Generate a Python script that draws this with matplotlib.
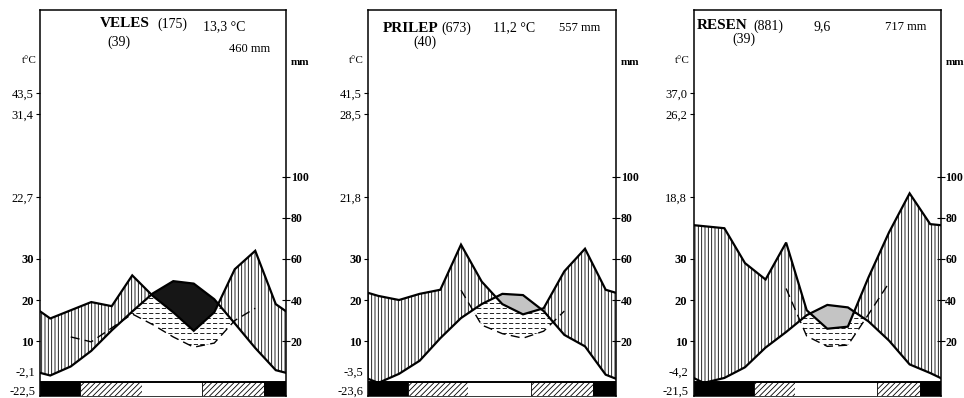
import numpy as np
import matplotlib.pyplot as plt
from matplotlib.patches import Rectangle, PathPatch
from matplotlib.path import Path

plt.rcParams['font.family'] = ['Liberation Serif', 'DejaVu Serif']
plt.rcParams['hatch.color'] = 'black'
plt.rcParams['hatch.linewidth'] = 0.6
plt.rcParams['lines.scale_dashes'] = False

NAN = np.nan

# --- Veles ---
veles_temp = [1.6, 3.8, 7.6, 12.6, 17.2, 21.6, 24.6, 24.0, 20.2, 14.3, 8.3, 2.9]
veles_prec = [31, 35, 39, 37, 52, 42, 34, 25, 34, 55, 64, 38]
veles_dash = [NAN, 11.0, 9.8, 13.2, 16.6, 14.0, 11.0, 8.5, 9.5, 15.0, 18.0, NAN]
veles_frost = [1.95, 4.96, 7.92, 10.94]
veles_labels_hi = ['43,5', '31,4', '22,7']
veles_labels_lo = ['-2,1', '-22,5']

# --- Prilep ---
prilep_temp = [-0.2, 2.0, 5.2, 10.7, 15.6, 19.0, 21.5, 21.2, 17.3, 11.5, 8.7, 1.8]
prilep_prec = [42, 40, 43, 45, 67, 49, 38, 33, 36, 54, 65, 45]
prilep_dash = [NAN, NAN, NAN, NAN, 22.4, 13.9, 11.8, 10.7, 12.4, 17.3, NAN, NAN]
prilep_frost = [1.94, 4.85, 7.9, 10.9]
prilep_labels_hi = ['41,5', '28,5', '21,8']
prilep_labels_lo = ['-3,5', '-23,6']

# --- Resen ---
resen_temp = [-0.2, 1.0, 3.6, 8.4, 12.2, 16.3, 18.8, 18.2, 14.8, 10.1, 4.3, 2.2]
resen_prec = [76, 75, 58, 50, 68, 35, 26, 27, 51, 73, 92, 77]
resen_dash = [NAN, NAN, NAN, NAN, 22.8, 11.2, 8.7, 9.0, 16.5, 24.2, NAN, NAN]
resen_frost = [2.95, 4.95, 8.9, 10.98]
resen_labels_hi = ['37,0', '26,2', '18,8']
resen_labels_lo = ['-4,2', '-21,5']

mm_ticks = [20, 40, 60, 80, 100]
t_ticks = [30, 20, 10]

Y_BOTTOM, Y_TOP = -3.4, 90.7


def wrap(vals):
    """extend the monthly values to the panel edges with the Dec/Jan mean"""
    v = np.asarray(vals, float)
    edge = (v[0] + v[-1]) / 2
    return np.concatenate([[edge], v, [edge]])


def draw_station(ax, temp, prec, dash, frost, lab_hi, lab_lo, header, arid_color):
    xm = np.arange(12) + 0.5
    xe = np.concatenate([[0], xm, [12]])
    te = wrap(temp)
    pe = wrap(np.asarray(prec, float) / 2)

    xf = np.linspace(0, 12, 2401)
    tf = np.interp(xf, xe, te)
    pf = np.interp(xf, xe, pe)

    # humid (vertical hatch) and arid areas
    ax.fill_between(xf, tf, pf, where=pf >= tf, interpolate=True,
                    facecolor='white', edgecolor='black', linewidth=0,
                    hatch='|||||', zorder=1)
    ax.fill_between(xf, pf, tf, where=tf > pf, interpolate=True,
                    facecolor=arid_color, edgecolor='none', linewidth=0, zorder=1)

    # dashed curve and the horizontally dashed zone under it
    d = np.asarray(dash, float)
    ok = ~np.isnan(d)
    xd, dd = xm[ok], d[ok]
    df = np.interp(xf, xd, dd, left=np.nan, right=np.nan)
    top = np.minimum(tf, pf)
    mask = (~np.isnan(df)) & (tf > np.nan_to_num(df, nan=1e9))
    poly = ax.fill_between(xf, np.nan_to_num(df), top, where=mask, interpolate=True,
                           facecolor='none', edgecolor='none', linewidth=0)
    paths = poly.get_paths()
    if paths:
        clip = PathPatch(Path.make_compound_path(*paths), transform=ax.transData,
                         facecolor='none', edgecolor='none')
        ax.add_patch(clip)
        for yy in np.arange(0.6, 40, 1.25):
            ln, = ax.plot([0, 12], [yy, yy], color='black', lw=0.6,
                          ls=(0, (3.0, 1.6)), zorder=1.5)
            ln.set_clip_path(clip)
    ax.plot(xd, dd, color='black', lw=1.0, ls=(0, (6.5, 3.8)), zorder=2)

    # temperature and precipitation curves
    ax.plot(xe, te, color='black', lw=1.6, zorder=3, solid_joinstyle='miter')
    ax.plot(xe, pe, color='black', lw=1.6, zorder=3, solid_joinstyle='miter')

    # frost bar: black / hatched / white / hatched / black
    edges = [0] + list(frost) + [12]
    styles = ['black', 'hatch', 'white', 'hatch', 'black']
    for a, b, s in zip(edges[:-1], edges[1:], styles):
        if s == 'black':
            r = Rectangle((a, Y_BOTTOM), b - a, -Y_BOTTOM, facecolor='black',
                          edgecolor='black', lw=0.6, zorder=3)
        elif s == 'hatch':
            r = Rectangle((a, Y_BOTTOM), b - a, -Y_BOTTOM, facecolor='white',
                          edgecolor='black', lw=0.6, hatch='//////', zorder=3)
        else:
            r = Rectangle((a, Y_BOTTOM), b - a, -Y_BOTTOM, facecolor='white',
                          edgecolor='none', lw=0, zorder=3)
        ax.add_patch(r)
    ax.axhline(0, color='black', lw=1.4, zorder=4)

    ax.set_xlim(0, 12)
    ax.set_ylim(Y_BOTTOM, Y_TOP)
    ax.set_xticks([])
    for sp in ax.spines.values():
        sp.set_linewidth(1.1)

    ax.set_yticks([70.4, 65.4, 45.1] + t_ticks)
    ax.set_yticklabels(lab_hi + [str(t) for t in t_ticks])
    ax.tick_params(axis='y', direction='out', length=3, width=0.8, pad=1.5,
                   labelsize=9)
    for lbl in ax.get_yticklabels()[3:]:
        lbl.set_fontweight('bold')
    for lbl, yy in zip(lab_lo, [2.3, -2.4]):
        ax.text(-0.02, yy, lbl, transform=ax.get_yaxis_transform(),
                ha='right', va='center', fontsize=9)
    ax.text(-0.015, 78.3, 't°C', transform=ax.get_yaxis_transform(),
            ha='right', va='center', fontsize=8)
    ax.text(1.02, 78.0, 'mm', transform=ax.get_yaxis_transform(),
            ha='left', va='center', fontsize=8, weight='bold')

    ax2 = ax.twinx()
    ax2.set_ylim(2 * Y_BOTTOM, 2 * Y_TOP)
    ax2.set_yticks(mm_ticks)
    ax2.tick_params(axis='y', direction='inout', length=6, width=0.8, pad=0.5,
                    labelsize=8.5)
    for lbl in ax2.get_yticklabels():
        lbl.set_fontweight('bold')
    ax2.set_frame_on(False)

    for txt, x, y, size, weight in header:
        ax.text(x, y, txt, transform=ax.transAxes, ha='left', va='center',
                fontsize=size, weight=weight)


fig = plt.figure(figsize=(9.64, 3.98), dpi=100)

ax_v = fig.add_axes([40 / 964, 2 / 398, 246 / 964, 386 / 398])
draw_station(ax_v, veles_temp, veles_prec, veles_dash, veles_frost,
             veles_labels_hi, veles_labels_lo,
             [('VELES', 0.244, 0.964, 11, 'bold'), ('(175)', 0.476, 0.964, 10, 'normal'),
              ('13,3 °C', 0.663, 0.956, 10, 'normal'), ('(39)', 0.272, 0.917, 10, 'normal'),
              ('460 mm', 0.768, 0.899, 9, 'normal')],
             '#161616')

ax_p = fig.add_axes([368 / 964, 2 / 398, 248 / 964, 386 / 398])
draw_station(ax_p, prilep_temp, prilep_prec, prilep_dash, prilep_frost,
             prilep_labels_hi, prilep_labels_lo,
             [('PRILEP', 0.060, 0.953, 11, 'bold'), ('(673)', 0.294, 0.953, 10, 'normal'),
              ('11,2 °C', 0.504, 0.953, 10, 'normal'), ('557 mm', 0.770, 0.953, 9, 'normal'),
              ('(40)', 0.181, 0.917, 10, 'normal')],
             '#c4c4c4')

ax_r = fig.add_axes([693.5 / 964, 2 / 398, 247 / 964, 386 / 398])
draw_station(ax_r, resen_temp, resen_prec, resen_dash, resen_frost,
             resen_labels_hi, resen_labels_lo,
             [('RESEN', 0.014, 0.959, 11, 'bold'), ('(881)', 0.241, 0.959, 10, 'normal'),
              ('9,6', 0.484, 0.956, 10, 'normal'), ('717 mm', 0.775, 0.956, 9, 'normal'),
              ('(39)', 0.156, 0.925, 10, 'normal')],
             '#c4c4c4')

fig.savefig('out.png', dpi=100)
